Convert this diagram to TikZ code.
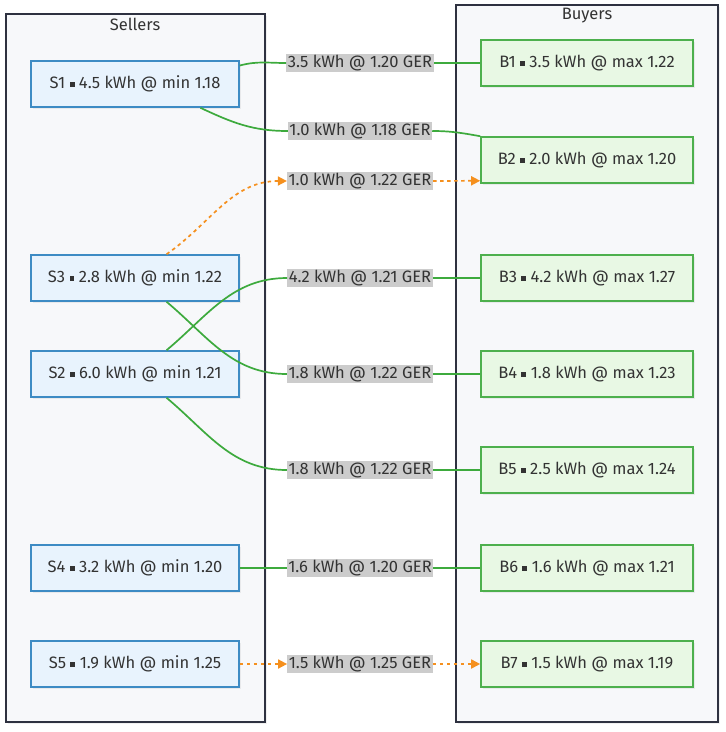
\documentclass[tikz,border=0pt]{standalone}
\usepackage{fontspec}
\setmainfont{Fira Sans}
\usetikzlibrary{positioning, arrows.meta, shadows}
\definecolor{frame}{HTML}{2E3140}
\definecolor{framebg}{HTML}{F7F8FA}
\definecolor{sellc}{HTML}{3D8BC4}
\definecolor{sellbg}{HTML}{E8F3FD}
\definecolor{buyc}{HTML}{4DB04D}
\definecolor{buybg}{HTML}{E8F8E4}
\definecolor{tradec}{HTML}{3DAA3D}
\definecolor{pendc}{HTML}{F5901E}
\definecolor{labbg}{HTML}{CCCCCC}
\definecolor{inkc}{HTML}{333333}
\newcommand{\sq}{\raisebox{0.2ex}{\rule{0.3em}{0.3em}}}

\begin{document}
\begin{tikzpicture}[x=1pt, y=-1pt, font=\fontsize{16.5}{19}\selectfont, text=inkc,
    group/.style={draw=frame, fill=framebg, line width=1.8pt,
                  drop shadow={opacity=0.12, shadow xshift=1.5pt, shadow yshift=-1.5pt}},
    seller/.style={draw=sellc, fill=sellbg, line width=1.6pt, minimum width=208pt,
                   minimum height=46pt, drop shadow={opacity=0.12, shadow xshift=1.5pt, shadow yshift=-1.5pt}},
    buyer/.style={draw=buyc, fill=buybg, line width=1.6pt, minimum width=212pt,
                  minimum height=46pt, drop shadow={opacity=0.12, shadow xshift=1.5pt, shadow yshift=-1.5pt}},
    deal/.style={fill=labbg, inner sep=1.5pt},
    trade/.style={draw=tradec, line width=1.7pt},
    offer/.style={draw=pendc, line width=1.7pt, dash pattern=on 3.5pt off 3.5pt,
                  -{Triangle[length=9pt, width=9pt]}}]
  \useasboundingbox (0,0) rectangle (726,732);

  % the two columns
  \node[group, minimum width=259pt, minimum height=708pt] (sellers) at (135.5,368) {};
  \node[group, minimum width=262pt, minimum height=717pt] (buyers) at (587,363.5) {};
  \node (sellhead) at (135,24) {Sellers};
  \node (buyhead) at (587,16) {Buyers};

  % sellers
  \foreach \nm/\yy/\txt in {s1/84/S1 \sq{} 4.5 kWh @ min 1.18, s3/278/S3 \sq{} 2.8 kWh @ min 1.22,
                            s2/374/S2 \sq{} 6.0 kWh @ min 1.21, s4/568/S4 \sq{} 3.2 kWh @ min 1.20,
                            s5/664/S5 \sq{} 1.9 kWh @ min 1.25}
    \node[seller] (\nm) at (135,\yy) {\txt};

  % buyers
  \foreach \nm/\yy/\txt in {b1/63/B1 \sq{} 3.5 kWh @ max 1.22, b2/160/B2 \sq{} 2.0 kWh @ max 1.20,
                            b3/278/B3 \sq{} 4.2 kWh @ max 1.27, b4/374/B4 \sq{} 1.8 kWh @ max 1.23,
                            b5/470/B5 \sq{} 2.5 kWh @ max 1.24, b6/568/B6 \sq{} 1.6 kWh @ max 1.21,
                            b7/664/B7 \sq{} 1.5 kWh @ max 1.19}
    \node[buyer] (\nm) at (587,\yy) {\txt};

  % matched amounts
  \node[deal] (d1) at (360,63)  {3.5 kWh @ 1.20 GER};
  \node[deal] (d2) at (360,131) {1.0 kWh @ 1.18 GER};
  \node[deal] (d3) at (360,181) {1.0 kWh @ 1.22 GER};
  \node[deal] (d4) at (360,278) {4.2 kWh @ 1.21 GER};
  \node[deal] (d5) at (360,374) {1.8 kWh @ 1.22 GER};
  \node[deal] (d6) at (360,470) {1.8 kWh @ 1.22 GER};
  \node[deal] (d7) at (360,568) {1.6 kWh @ 1.20 GER};
  \node[deal] (d8) at (360,664) {1.5 kWh @ 1.25 GER};

  % links
  \draw[trade] (s1.10) to[out=15,in=180] (d1.west);
  \draw[trade] (d1.east) -- (b1.west);
  \draw[trade] (s1.-20) to[out=-25,in=180] (d2.west);
  \draw[trade] (d2.east) to[out=0,in=170] (b2.north west);
  \draw[offer] (s3.37) to[out=35,in=180] (d3.west);
  \draw[offer] (d3.east) -- (b2.191);
  \draw[trade] (s2.37) to[out=40,in=180] (d4.west);
  \draw[trade] (d4.east) -- (b3.west);
  \draw[trade] (s3.-37) to[out=-40,in=180] (d5.west);
  \draw[trade] (d5.east) -- (b4.west);
  \draw[trade] (s2.-37) to[out=-40,in=180] (d6.west);
  \draw[trade] (d6.east) -- (b5.west);
  \draw[trade] (s4.east) -- (d7.west);
  \draw[trade] (d7.east) -- (b6.west);
  \draw[offer] (s5.east) -- (d8.west);
  \draw[offer] (d8.east) -- (b7.west);
\end{tikzpicture}
\end{document}
